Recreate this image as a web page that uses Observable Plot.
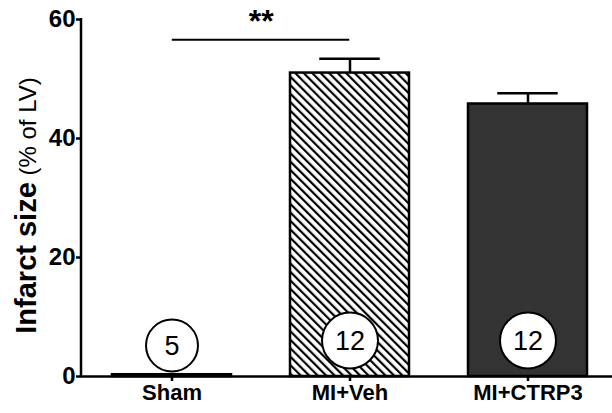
<!DOCTYPE html>
<html><head><meta charset="utf-8">
<script src="https://cdn.jsdelivr.net/npm/d3@7"></script>
<script src="https://cdn.jsdelivr.net/npm/@observablehq/plot@0.6"></script>
<style>body{margin:0;background:#fff} svg{display:block}</style>
</head><body><div id="chart"></div>
<script>
const groups = ["Sham", "MI+Veh", "MI+CTRP3"];
const means = [0.3, 51.0, 45.8];
const sems = [0.1, 2.4, 1.8];
const nValues = [5, 12, 12];
const fills = ["white", "url(#hatch)", "#333333"];
const yTicks = [0, 20, 40, 60];
const sigPair = ["Sham", "MI+Veh"];
const sigLabel = "**";
const sigLevel = 56.6;
const yLabelBold = "Infarct size";
const yLabelRegular = "(% of LV)";

const data = groups.map((g, i) => ({group: g, mean: means[i], sem: sems[i], n: nValues[i], fill: fills[i]}));
const sig = [{x1: sigPair[0], x2: sigPair[1], y: sigLevel, label: sigLabel}];

const FONT = "Arial, 'Liberation Sans', sans-serif";
const W = 612, H = 413, ML = 81, MT = 19, MB = 37;
const padIn = 0.33, padOut = 0.17;
const xRange = [ML, 618];
const step = (xRange[1] - xRange[0]) / (groups.length - padIn + 2 * padOut);
const bw = step * (1 - padIn);

function yAxisLine(index, scales, values, dims) {
  const g = d3.create("svg:g");
  g.append("line")
    .attr("x1", dims.marginLeft).attr("x2", dims.marginLeft)
    .attr("y1", scales.y(0) + 1.25).attr("y2", scales.y(60) - 1)
    .attr("stroke", "black").attr("stroke-width", 2.5);
  return g.node();
}
function yLabel(index, scales, values, dims) {
  const cy = (scales.y(0) + scales.y(60)) / 2 + 8;
  const t = d3.create("svg:text")
    .attr("transform", `translate(36,${cy}) rotate(-90)`)
    .attr("text-anchor", "middle")
    .attr("font-family", FONT)
    .attr("fill", "black");
  t.append("tspan").attr("font-weight", "bold").attr("font-size", 29).text(yLabelBold);
  t.append("tspan").attr("font-weight", "normal").attr("font-size", 24).text(" " + yLabelRegular);
  return t.node();
}

const chart = Plot.plot({
  width: W, height: H,
  marginLeft: ML, marginRight: 0, marginTop: MT, marginBottom: MB,
  style: {fontFamily: FONT, color: "black", background: "white"},
  x: {domain: groups, range: xRange, paddingInner: padIn, paddingOuter: padOut, axis: null},
  y: {domain: [0, 60], axis: null},
  color: {type: "identity"},
  marks: [
    Plot.barY(data, {x: "group", y: "mean", fill: "fill", stroke: "black", strokeWidth: 2.5}),
    Plot.ruleX(data.filter(d => d.group !== "Sham"), {x: "group", y1: "mean", y2: d => d.mean + d.sem, stroke: "black", strokeWidth: 2.5}),
    Plot.tickY(data.filter(d => d.group !== "Sham"), {x: "group", y: d => d.mean + d.sem, stroke: "black", strokeWidth: 2.5, insetLeft: (bw - 61) / 2, insetRight: (bw - 61) / 2}),
    Plot.dot(data.filter(d => d.group === "Sham"), {x: "group", y: 0, r: 26, dy: -31, fill: "white", stroke: "black", strokeWidth: 2}),
    Plot.text(data.filter(d => d.group === "Sham"), {x: "group", y: 0, text: d => String(d.n), dy: -30, fontSize: 27, fill: "black"}),
    Plot.dot(data.filter(d => d.group !== "Sham"), {x: "group", y: 0, r: 28, dy: -36, fill: "white", stroke: "black", strokeWidth: 2}),
    Plot.text(data.filter(d => d.group !== "Sham"), {x: "group", y: 0, text: d => String(d.n), dy: -35, fontSize: 27, fill: "black"}),
    Plot.ruleY(sig, {x1: "x1", x2: "x2", y: "y", stroke: "black", strokeWidth: 2, insetLeft: bw / 2, insetRight: bw / 2}),
    Plot.text(sig, {x: "x1", y: "y", text: "label", dx: step / 2, dy: -8, fontSize: 32, fontWeight: "bold", fill: "black", lineAnchor: "bottom"}),
    Plot.ruleY([0], {stroke: "black", strokeWidth: 2.5}),
    Plot.axisY({ticks: yTicks, tickSize: 5, tickPadding: 1, fontSize: 24, fontWeight: "bold", label: null, strokeWidth: 2.5, tickFormat: d => String(d)}),
    Plot.axisX({tickSize: 5, tickPadding: 3, fontSize: 22, fontWeight: "bold", label: null, strokeWidth: 2.5}),
    yAxisLine,
    yLabel
  ]
});

const defs = d3.select(chart).insert("defs", ":first-child");
const pat = defs.append("pattern")
  .attr("id", "hatch").attr("patternUnits", "userSpaceOnUse")
  .attr("width", 6).attr("height", 6)
  .attr("patternTransform", "rotate(-45)");
pat.append("rect").attr("width", 6).attr("height", 6).attr("fill", "white");
pat.append("line").attr("x1", 1).attr("y1", 0).attr("x2", 1).attr("y2", 6)
  .attr("stroke", "black").attr("stroke-width", 2.4);

document.getElementById("chart").appendChild(chart);
</script>
</body></html>
